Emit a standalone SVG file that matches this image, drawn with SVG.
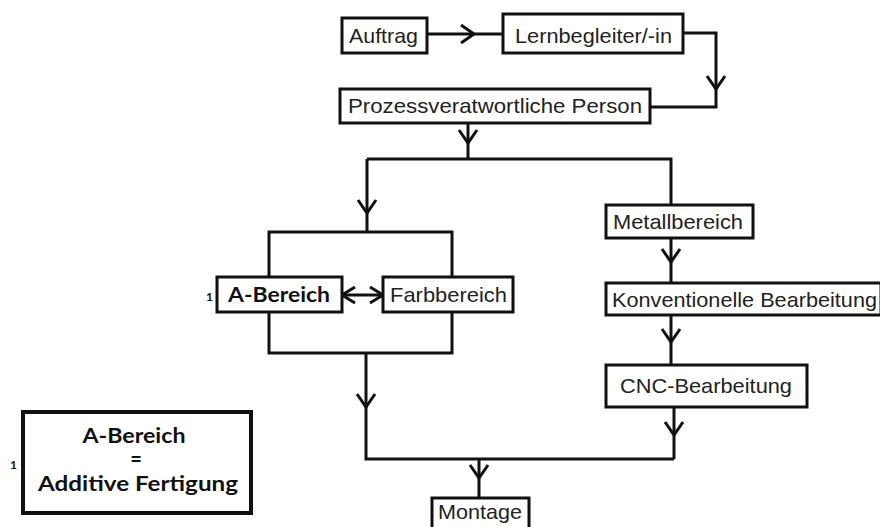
<svg xmlns="http://www.w3.org/2000/svg" width="880" height="527" viewBox="0 0 880 527">
<style>
.box{fill:#fff;stroke:#111;stroke-width:3}
.t{font-family:"Liberation Sans",Arial,sans-serif;font-size:21px;fill:#222}
.b{font-family:Lato,"Open Sans",sans-serif;font-weight:bold;fill:#111}
.c{fill:none;stroke:#111;stroke-width:3}
</style>
<defs>
<marker id="v" markerUnits="userSpaceOnUse" markerWidth="30" markerHeight="30" refX="0" refY="0" viewBox="-15 -15 30 30" orient="auto" overflow="visible">
<path d="M-13,-9 L0,0 L-13,9" fill="none" stroke="#111" stroke-width="3"/>
</marker>
<marker id="vs" markerUnits="userSpaceOnUse" markerWidth="30" markerHeight="30" refX="0" refY="0" viewBox="-15 -15 30 30" orient="auto-start-reverse" overflow="visible">
<path d="M-13,-8 L0,0 L-13,8" fill="none" stroke="#111" stroke-width="3"/>
</marker>
</defs>
<rect width="880" height="527" fill="#fff"/>
<g id="connectors" class="c">
<path d="M427,34 H474" marker-end="url(#v)"/>
<path d="M474,34 H503"/>
<path d="M683,33 H716 V89" marker-end="url(#v)"/>
<path d="M716,89 V107 H650"/>
<path d="M468,123 V143" marker-end="url(#v)"/>
<path d="M468,143 V159"/>
<path d="M367,159 H671 V205"/>
<path d="M367,159 V213" marker-end="url(#v)"/>
<path d="M367,213 V232"/>
<path d="M269,277 V232 H452 V277"/>
<path d="M342,295 H383" marker-start="url(#vs)" marker-end="url(#vs)"/>
<path d="M269,312 V353 H452 V312"/>
<path d="M366,353 V407" marker-end="url(#v)"/>
<path d="M366,407 V459 H674"/>
<path d="M674,407 V435" marker-end="url(#v)"/>
<path d="M674,435 V459"/>
<path d="M479,459 V478" marker-end="url(#v)"/>
<path d="M479,478 V498"/>
<path d="M671,238 V262" marker-end="url(#v)"/>
<path d="M671,262 V283"/>
<path d="M671,315 V342" marker-end="url(#v)"/>
<path d="M671,342 V365"/>
</g>
<g id="auftrag"><rect class="box" x="342" y="18" width="85" height="35"/><text class="t" x="349" y="43" textLength="69" lengthAdjust="spacingAndGlyphs">Auftrag</text></g>
<g id="lernbegleiter"><rect class="box" x="503" y="14" width="180" height="39"/><text class="t" x="515" y="43" textLength="157" lengthAdjust="spacingAndGlyphs">Lernbegleiter/-in</text></g>
<g id="prozess"><rect class="box" x="340" y="89" width="310" height="34"/><text class="t" x="348" y="113" textLength="294" lengthAdjust="spacingAndGlyphs">Prozessveratwortliche Person</text></g>
<g id="a-bereich"><rect class="box" x="217" y="277" width="125" height="35"/><text class="b" x="206" y="301" font-size="12">1</text><text class="b" x="228" y="302" font-size="21" fill="#1a1a2e" textLength="102" lengthAdjust="spacingAndGlyphs">A-Bereich</text></g>
<g id="farbbereich"><rect class="box" x="383" y="277" width="130" height="35"/><text class="t" x="390" y="302" textLength="117" lengthAdjust="spacingAndGlyphs">Farbbereich</text></g>
<g id="metallbereich"><rect class="box" x="606" y="205" width="147" height="33"/><text class="t" x="613" y="229" textLength="130" lengthAdjust="spacingAndGlyphs">Metallbereich</text></g>
<g id="konventionelle"><rect class="box" x="606" y="283" width="275" height="32"/><text class="t" x="612" y="307" textLength="265" lengthAdjust="spacingAndGlyphs">Konventionelle Bearbeitung</text></g>
<g id="cnc"><rect class="box" x="606" y="365" width="201" height="42"/><text class="t" x="620" y="393" textLength="172" lengthAdjust="spacingAndGlyphs">CNC-Bearbeitung</text></g>
<g id="montage"><rect class="box" x="432" y="498" width="97" height="40"/><text class="t" x="438" y="519" textLength="84" lengthAdjust="spacingAndGlyphs">Montage</text></g>
<g id="legend">
<rect x="23" y="412" width="228" height="101" fill="#fff" stroke="#111" stroke-width="4"/>
<text class="b" x="10" y="469" font-size="12">1</text>
<text class="b" x="134" y="443" font-size="20" text-anchor="middle" textLength="103" lengthAdjust="spacingAndGlyphs">A-Bereich</text>
<text class="b" x="136" y="466" font-size="20" text-anchor="middle">=</text>
<text class="b" x="138" y="491" font-size="20" text-anchor="middle" textLength="200" lengthAdjust="spacingAndGlyphs">Additive Fertigung</text>
</g>
</svg>
